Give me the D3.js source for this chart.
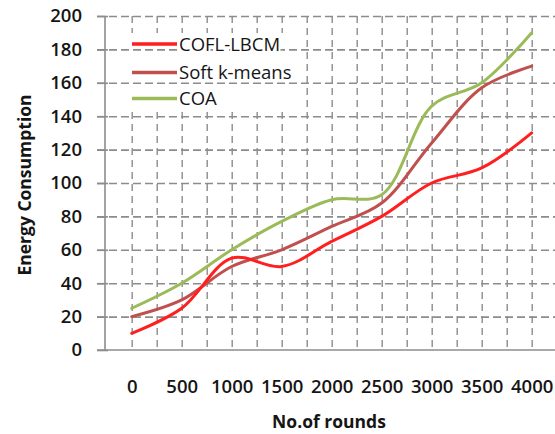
<!DOCTYPE html>
<html>
<head>
<meta charset="utf-8">
<script src="https://cdn.jsdelivr.net/npm/d3@7"></script>
<style>
  html, body { margin: 0; padding: 0; background: #ffffff; }
  svg { display: block; font-family: "Open Sans", "DejaVu Sans", sans-serif; }
</style>
</head>
<body>
<svg id="chart" width="555" height="434"></svg>
<script>
// Rounds along the x axis
const rounds = [0, 500, 1000, 1500, 2000, 2500, 3000, 3500, 4000];
// Energy consumption per method
const cofl = [10, 25, 55, 50, 65, 80, 100, 109, 130];
const softKMeans = [20, 30, 50, 60, 74, 88, 124, 157, 170];
const coa = [25, 40, 60, 77, 90, 93, 146, 160, 190];
// Axis ticks
const yTicks = [0, 20, 40, 60, 80, 100, 120, 140, 160, 180, 200];
const xGridStep = 250;

const seriesNames = ["COFL-LBCM", "Soft k-means", "COA"];
const seriesColors = ["#ff1f1f", "#c0504d", "#9bbb59"];
const seriesValues = [cofl, softKMeans, coa];

const svg = d3.select("#chart");
const axisLeftX = 105;
const plotTop = 16, plotBottom = 350;

const x = d3.scaleLinear().domain([-250, 4250]).range([106.7, 556.7]);
const y = d3.scaleLinear().domain([0, 200]).range([plotBottom, plotTop]);

const gridColor = "#8c8c8c";
const textColor = "#151515";
const labelWeight = 600;

// Vertical dashed gridlines
const vGrid = svg.append("g")
  .attr("transform", `translate(0,${plotTop})`)
  .call(d3.axisBottom(x)
    .tickValues(d3.range(0, 4000 + xGridStep, xGridStep))
    .tickSize(plotBottom - plotTop)
    .tickFormat(""));
vGrid.select(".domain").remove();
vGrid.selectAll("line")
  .attr("stroke", gridColor)
  .attr("stroke-width", 1.4)
  .attr("stroke-dasharray", "7,5");

// Legend backdrop
svg.append("rect")
  .attr("x", 129).attr("y", 33)
  .attr("width", 172).attr("height", 78)
  .attr("fill", "#ffffff");

// Horizontal dashed gridlines
const hGrid = svg.append("g")
  .attr("transform", "translate(97,0)")
  .call(d3.axisRight(y)
    .tickValues(yTicks.filter(d => d > 0))
    .tickSize(460)
    .tickFormat(""));
hGrid.select(".domain").remove();
hGrid.selectAll("line")
  .attr("stroke", gridColor)
  .attr("stroke-width", 1.6)
  .attr("stroke-dasharray", "8,4");

// Y axis
const yAxis = svg.append("g")
  .attr("transform", `translate(${axisLeftX},0)`)
  .call(d3.axisLeft(y).tickValues(yTicks).tickSize(8).tickPadding(15));
yAxis.select(".domain")
  .attr("d", `M0,${plotTop}V${plotBottom}`)
  .attr("stroke", gridColor).attr("stroke-width", 1.6);
yAxis.selectAll(".tick line").attr("stroke", gridColor).attr("stroke-width", 1.6)
  .attr("x2", -8).attr("x1", 3);
yAxis.selectAll("text")
  .attr("fill", textColor)
  .style("font-size", "18.5px")
  .style("font-weight", labelWeight)
  .style("font-family", "'Open Sans', sans-serif");

// X axis
const xAxis = svg.append("g")
  .attr("transform", `translate(0,${plotBottom})`)
  .call(d3.axisBottom(x).tickValues(rounds).tickFormat(d3.format("d"))
    .tickSize(0).tickPadding(30));
xAxis.select(".domain")
  .attr("d", "M97,0H556")
  .attr("stroke", gridColor).attr("stroke-width", 1.6);
xAxis.selectAll("text")
  .attr("fill", textColor)
  .style("font-size", "18.5px")
  .style("font-weight", labelWeight)
  .style("font-family", "'Open Sans', sans-serif");

// Series lines
const line = d3.line()
  .x((d, i) => x(rounds[i]))
  .y(d => y(d))
  .curve(d3.curveCatmullRom.alpha(0.5));

const order = [2, 1, 0];
order.forEach(k => {
  svg.append("path")
    .datum(seriesValues[k])
    .attr("fill", "none")
    .attr("stroke", seriesColors[k])
    .attr("stroke-width", 3)
    .attr("stroke-linejoin", "round")
    .attr("stroke-linecap", "round")
    .attr("d", line);
});

// Legend
const legendY = [44, 72.5, 98.5];
const legend = svg.append("g");
seriesNames.forEach((name, i) => {
  legend.append("line")
    .attr("x1", 132).attr("x2", 177)
    .attr("y1", legendY[i]).attr("y2", legendY[i])
    .attr("stroke", seriesColors[i]).attr("stroke-width", 3.5);
  legend.append("text")
    .attr("x", 179).attr("y", legendY[i])
    .attr("dy", "0.36em")
    .attr("fill", textColor)
    .attr("stroke", "#ffffff").attr("stroke-width", 4)
    .attr("paint-order", "stroke")
    .style("font-size", "18.5px")
    .style("font-weight", 500)
    .text(name);
});

// Axis titles
svg.append("text")
  .attr("x", 329).attr("y", 428)
  .attr("text-anchor", "middle")
  .attr("fill", textColor)
  .style("font-size", "17.5px")
  .style("font-weight", "bold")
  .text("No.of rounds");

svg.append("text")
  .attr("transform", "translate(31,185) rotate(-90)")
  .attr("text-anchor", "middle")
  .attr("fill", textColor)
  .style("font-size", "17.5px")
  .style("font-weight", "bold")
  .text("Energy Consumption");
</script>
</body>
</html>
